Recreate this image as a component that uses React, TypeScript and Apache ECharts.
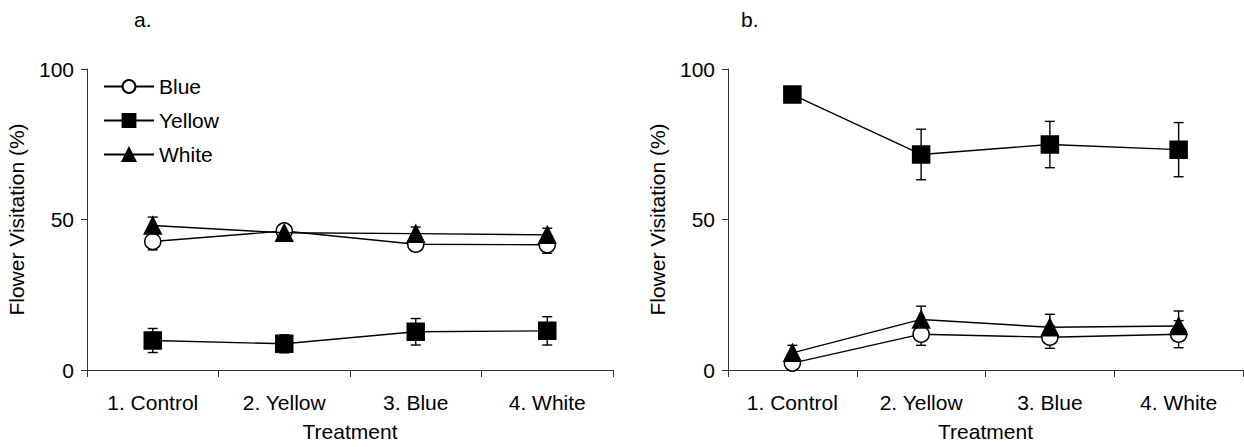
import React, { useEffect, useRef } from "react";
import * as echarts from "echarts";

const categories = ["1. Control", "2. Yellow", "3. Blue", "4. White"];
const seriesNames = ["Blue", "Yellow", "White"];
const panelTitles = ["a.", "b."];
const yAxisName = "Flower Visitation (%)";
const xAxisName = "Treatment";

// Panel a
const aBlue = [42.7, 46.2, 41.8, 41.6];
const aBlueErr = [2.8, 1.5, 2.2, 2.8];
const aYellow = [9.8, 8.7, 12.7, 13.0];
const aYellowErr = [4.0, 3.0, 4.4, 4.7];
const aWhite = [48.0, 45.6, 45.3, 44.9];
const aWhiteErr = [2.8, 1.5, 2.2, 2.2];

// Panel b
const bBlue = [2.3, 11.9, 10.9, 11.9];
const bBlueErr = [1.5, 3.7, 3.7, 4.5];
const bYellow = [91.5, 71.6, 74.9, 73.2];
const bYellowErr = [2.5, 8.4, 7.7, 9.0];
const bWhite = [5.7, 16.8, 14.2, 14.6];
const bWhiteErr = [2.5, 4.4, 4.3, 5.0];

const FONT = "Liberation Sans, Arial, sans-serif";
const FS = 21;

const symbolOf: Record<string, { symbol: string; size: number; fill: string }> = {
  Blue: { symbol: "circle", size: 16, fill: "#ffffff" },
  Yellow: { symbol: "rect", size: 17, fill: "#000000" },
  White: { symbol: "triangle", size: 17, fill: "#000000" },
};

function lineSeries(name: string, data: number[], axis: number) {
  const s = symbolOf[name];
  return {
    type: "line",
    name,
    xAxisIndex: axis,
    yAxisIndex: axis,
    data,
    symbol: s.symbol,
    symbolSize: s.size,
    showAllSymbol: true,
    itemStyle: { color: s.fill, borderColor: "#000", borderWidth: 1.5 },
    lineStyle: { color: "#000", width: 1.4 },
    emphasis: { disabled: true },
    z: name === "White" ? 5 : name === "Yellow" ? 4 : 3,
  };
}

function errSeries(name: string, vals: number[], errs: number[], axis: number) {
  return {
    type: "custom",
    name: name + " err",
    xAxisIndex: axis,
    yAxisIndex: axis,
    data: vals.map((v, i) => [i, v, errs[i]]),
    encode: { x: 0, y: 1 },
    z: 1,
    silent: true,
    renderItem: (params: any, api: any) => {
      const x = api.value(0);
      const y = api.value(1);
      const e = api.value(2);
      const top = api.coord([x, y + e]);
      const bot = api.coord([x, y - e]);
      const hw = 5;
      const st = { stroke: "#000", lineWidth: 1.4 };
      return {
        type: "group",
        children: [
          { type: "line", shape: { x1: top[0], y1: top[1], x2: bot[0], y2: bot[1] }, style: st },
          { type: "line", shape: { x1: top[0] - hw, y1: top[1], x2: top[0] + hw, y2: top[1] }, style: st },
          { type: "line", shape: { x1: bot[0] - hw, y1: bot[1], x2: bot[0] + hw, y2: bot[1] }, style: st },
        ],
      };
    },
  };
}

function xAxis(grid: number) {
  return {
    type: "category",
    gridIndex: grid,
    data: categories,
    boundaryGap: true,
    name: xAxisName,
    nameLocation: "middle",
    nameGap: 51,
    nameTextStyle: { fontFamily: FONT, fontSize: FS, color: "#000" },
    axisLine: { lineStyle: { color: "#333", width: 1 } },
    axisTick: { show: true, length: 7, lineStyle: { color: "#333" } },
    axisLabel: { fontFamily: FONT, fontSize: FS, color: "#000", margin: 22, interval: 0 },
    splitLine: { show: false },
  };
}

function yAxis(grid: number) {
  return {
    type: "value",
    gridIndex: grid,
    min: 0,
    max: 100,
    interval: 50,
    name: yAxisName,
    nameLocation: "middle",
    nameGap: 60,
    nameRotate: 90,
    nameTextStyle: { fontFamily: FONT, fontSize: FS, color: "#000" },
    axisLine: { show: true, lineStyle: { color: "#333", width: 1 } },
    axisTick: { show: true, length: 6, lineStyle: { color: "#333" } },
    axisLabel: { fontFamily: FONT, fontSize: FS, color: "#000", margin: 13 },
    splitLine: { show: false },
  };
}

export default function App() {
  const ref = useRef<HTMLDivElement>(null);
  useEffect(() => {
    if (!ref.current) return;
    const chart = echarts.init(ref.current, null, { renderer: "svg" });
    chart.setOption({
      animation: false,
      backgroundColor: "#ffffff",
      title: [
        { text: panelTitles[0], left: 129, top: 4, textStyle: { fontFamily: FONT, fontSize: FS, fontWeight: "normal", color: "#000" } },
        { text: panelTitles[1], left: 736, top: 4, textStyle: { fontFamily: FONT, fontSize: FS, fontWeight: "normal", color: "#000" } },
      ],
      legend: {
        data: seriesNames,
        orient: "vertical",
        left: 98,
        top: 71,
        itemWidth: 50,
        itemHeight: 16,
        itemGap: 13,
        textStyle: { fontFamily: FONT, fontSize: FS, color: "#000" },
        selectedMode: false,
      },
      grid: [
        { left: 87, top: 69, width: 526, height: 305 },
        { left: 728, top: 69, width: 515, height: 305 },
      ],
      xAxis: [xAxis(0), xAxis(1)],
      yAxis: [yAxis(0), yAxis(1)],
      series: [
        errSeries("Blue", aBlue, aBlueErr, 0),
        errSeries("Yellow", aYellow, aYellowErr, 0),
        errSeries("White", aWhite, aWhiteErr, 0),
        lineSeries("Blue", aBlue, 0),
        lineSeries("Yellow", aYellow, 0),
        lineSeries("White", aWhite, 0),
        errSeries("Blue", bBlue, bBlueErr, 1),
        errSeries("Yellow", bYellow, bYellowErr, 1),
        errSeries("White", bWhite, bWhiteErr, 1),
        lineSeries("Blue", bBlue, 1),
        lineSeries("Yellow", bYellow, 1),
        lineSeries("White", bWhite, 1),
      ],
    });
    return () => chart.dispose();
  }, []);
  return (
    <div
      ref={ref}
      style={{ position: "fixed", left: 0, top: 0, width: 1244, height: 447, background: "#fff" }}
    />
  );
}
